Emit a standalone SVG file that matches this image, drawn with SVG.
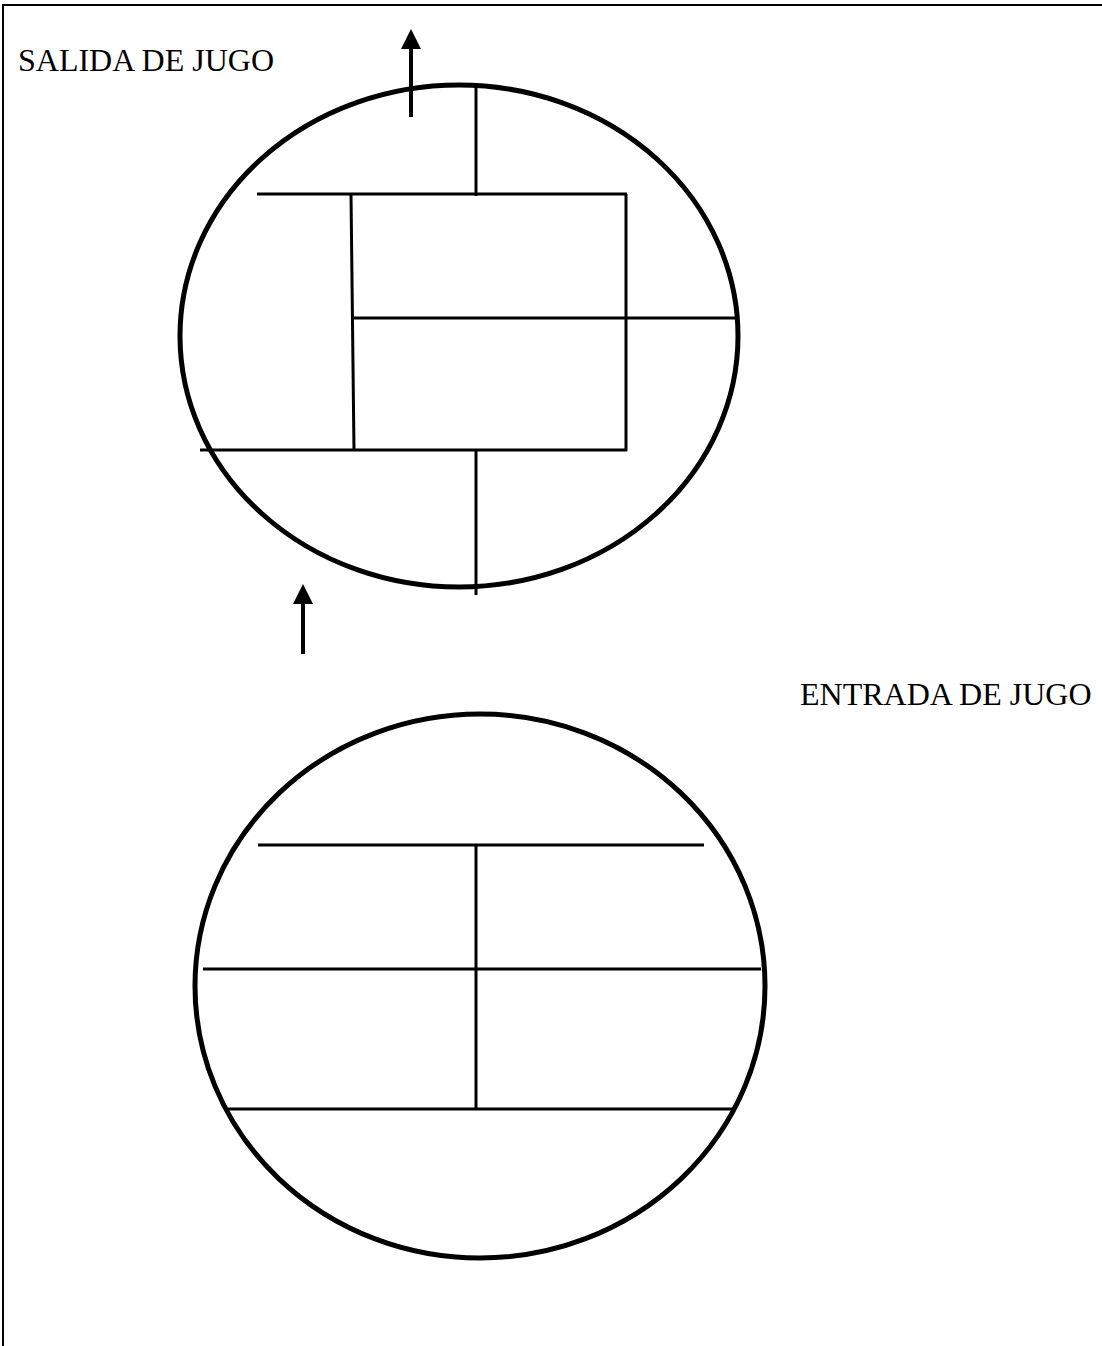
<svg xmlns="http://www.w3.org/2000/svg" width="1102" height="1346" viewBox="0 0 1102 1346">
<style>
.frame{fill:none;stroke:#000;stroke-width:2}
.ell{fill:none;stroke:#000;stroke-width:5}
.ln{fill:none;stroke:#000;stroke-width:3}
.arr{fill:none;stroke:#000;stroke-width:4}
.lbl{font-family:"Liberation Serif","Times New Roman",serif;font-size:32px;fill:#000}
</style>
<defs>
<marker id="ah" markerWidth="5" markerHeight="5" refX="1" refY="2.5" orient="auto" markerUnits="strokeWidth">
<path d="M0,0 L5,2.5 L0,5 Z" fill="#000"/>
</marker>
</defs>
<rect width="1102" height="1346" fill="#fff"/>
<path class="frame" d="M3,1346 L3,5 L1102,5"/>
<text class="lbl" x="18" y="71">SALIDA DE JUGO</text>
<text class="lbl" x="800" y="705">ENTRADA DE JUGO</text>
<g id="top">
<ellipse class="ell" cx="459" cy="336" rx="279" ry="251"/>
<line class="ln" x1="476" y1="86" x2="476" y2="196"/>
<line class="ln" x1="257" y1="194" x2="627" y2="194"/>
<line class="ln" x1="626" y1="194" x2="626" y2="451"/>
<line class="ln" x1="351" y1="194" x2="354" y2="451"/>
<line class="ln" x1="354" y1="318" x2="735" y2="318"/>
<line class="ln" x1="200" y1="450" x2="627" y2="450"/>
<line class="ln" x1="476" y1="450" x2="476" y2="595"/>
</g>
<g id="bottom">
<ellipse class="ell" cx="480" cy="986" rx="285" ry="272"/>
<line class="ln" x1="258" y1="845" x2="704" y2="845"/>
<line class="ln" x1="476" y1="845" x2="476" y2="1110"/>
<line class="ln" x1="203" y1="969" x2="761" y2="969"/>
<line class="ln" x1="228" y1="1109" x2="734" y2="1109"/>
</g>
<g id="connectors">
<line class="arr" x1="411" y1="117" x2="411" y2="45" marker-end="url(#ah)"/>
<line class="arr" x1="303" y1="654" x2="303" y2="600" marker-end="url(#ah)"/>
</g>
</svg>
